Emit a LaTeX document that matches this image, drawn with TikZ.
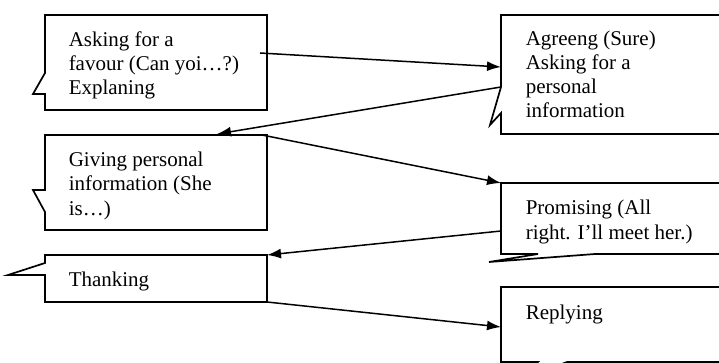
\documentclass[tikz,border=0pt]{standalone}
\usepackage{fontspec}
\setmainfont{Liberation Serif}
\usetikzlibrary{arrows.meta}

\tikzset{
  lbl/.style={anchor=base west, align=left, inner sep=0pt,
    font=\fontsize{21}{24.3}\selectfont},
  bubble/.style={line width=1.7pt, line join=miter}
}

\begin{document}
\begin{tikzpicture}[x=1pt,y=-1pt,>={Latex[length=14pt,width=10pt]},line width=1.5pt]
    \useasboundingbox (0,0) rectangle (719,363);
    \clip (0,0) rectangle (719,363);

    \draw [bubble] (45,15) -- (267,15) -- (267,110) -- (45,110) -- (45,94) -- (33,94) -- (45,73) -- cycle;
    \node [lbl] (ask) at (68,95) {Asking for a\\favour (Can yoi…?)\\Explaning};

    \draw [bubble] (501,15) -- (730,15) -- (730,134) -- (501,134) -- (501,113) -- (490,125) -- (501,87) -- cycle;
    \node [lbl] (agree) at (525,118) {Agreeng (Sure)\\Asking for a\\personal\\information};

    \draw [bubble] (45,135) -- (267,135) -- (267,230) -- (45,230) -- (45,212) -- (33,190) -- (45,190) -- cycle;
    \node [lbl] (give) at (68,215) {Giving personal\\information (She\\is…)};

    \draw [bubble] (501,183) -- (730,183) -- (730,254) -- (595,254) -- (489,262) -- (538,254) -- (501,254) -- cycle;
    \node [lbl] (promise) at (525,239) {Promising (All\\right. I’ll meet her.)};

    \draw [bubble] (45,255) -- (267,255) -- (267,302) -- (45,302) -- (45,275) -- (8,275) -- (45,263) -- cycle;
    \node [lbl] (thank) at (68,286) {Thanking};

    \draw [bubble] (501,287) -- (730,287) -- (730,362) -- (567,362) -- (520,380) -- (538,362) -- (501,362) -- cycle;
    \node [lbl] (reply) at (525,319) {Replying};

    % ends of the connectors
    \coordinate (askout) at (260,53);
    \coordinate (agreein) at (501,67);
    \coordinate (agreeout) at (501,87);
    \coordinate (givein) at (217,134);
    \coordinate (giveout) at (262,135);
    \coordinate (promisein) at (501,183);
    \coordinate (promiseout) at (501,231);
    \coordinate (thankin) at (267,255);
    \coordinate (thankout) at (267,302);
    \coordinate (replyin) at (501,327);

    \draw [->] (askout) -- (agreein);
    \draw [->] (agreeout) -- (givein);
    \draw [->] (giveout) -- (promisein);
    \draw [->] (promiseout) -- (thankin);
    \draw [->] (thankout) -- (replyin);
\end{tikzpicture}
\end{document}
